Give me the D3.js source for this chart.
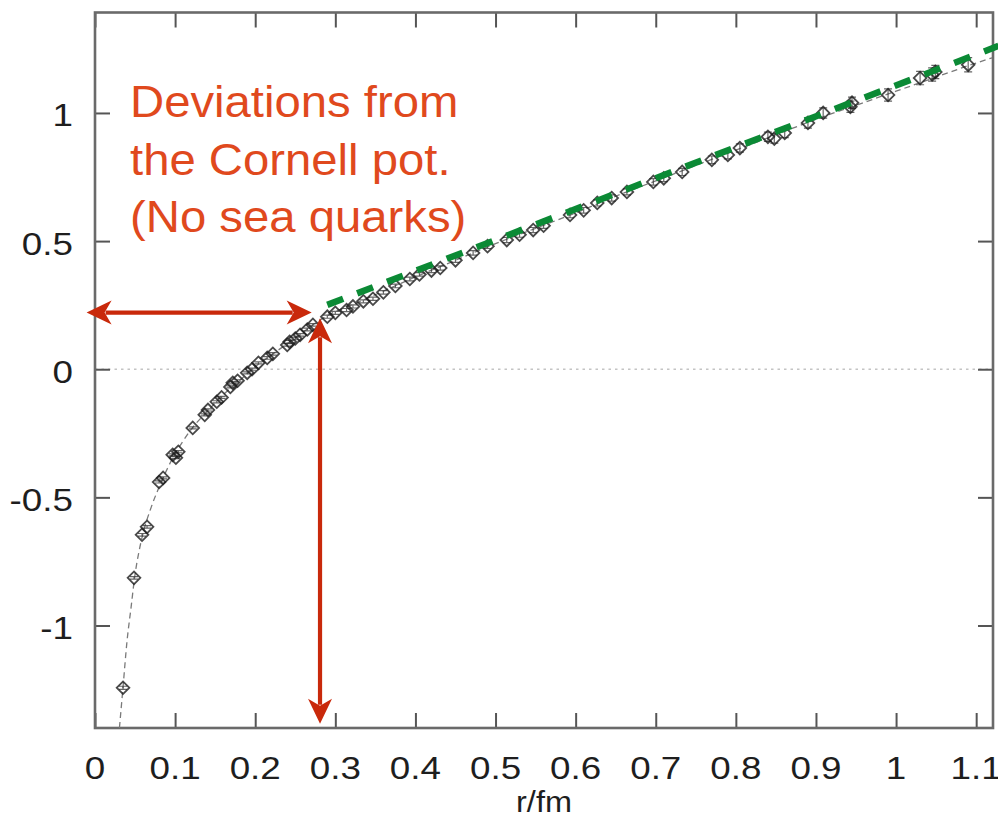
<!DOCTYPE html>
<html>
<head>
<meta charset="utf-8">
<script src="https://cdn.jsdelivr.net/npm/d3@7"></script>
<style>
  html, body { margin: 0; padding: 0; background: #fff; }
  svg { display: block; }
</style>
</head>
<body>
<svg id="chart" width="998" height="819"></svg>
<script>
// Static potential V(r) from lattice data, r in fm.
const rValues = [0.035, 0.0487, 0.0587, 0.065, 0.08, 0.085, 0.097, 0.101, 0.104, 0.122,
  0.137, 0.141, 0.152, 0.158, 0.169, 0.172, 0.178, 0.19, 0.196, 0.204,
  0.215, 0.222, 0.24, 0.243, 0.25, 0.256, 0.265, 0.272, 0.29, 0.3,
  0.314, 0.322, 0.335, 0.347, 0.36, 0.375, 0.393, 0.405, 0.42, 0.431,
  0.45, 0.472, 0.49, 0.514, 0.53, 0.547, 0.56, 0.593, 0.61, 0.627,
  0.645, 0.664, 0.697, 0.71, 0.733, 0.77, 0.79, 0.805, 0.84, 0.848,
  0.861, 0.89, 0.909, 0.943, 0.945, 0.99, 1.03, 1.045, 1.049, 1.09];
const vValues = [-1.243, -0.814, -0.646, -0.615, -0.44, -0.424, -0.334, -0.345, -0.322, -0.229,
  -0.178, -0.159, -0.127, -0.11, -0.069, -0.053, -0.045, -0.014, 0.0, 0.025,
  0.044, 0.06, 0.095, 0.107, 0.12, 0.134, 0.155, 0.173, 0.205, 0.22,
  0.231, 0.245, 0.265, 0.275, 0.3, 0.325, 0.352, 0.37, 0.385, 0.395,
  0.425, 0.454, 0.48, 0.504, 0.525, 0.543, 0.56, 0.602, 0.62, 0.649,
  0.668, 0.692, 0.731, 0.745, 0.77, 0.817, 0.836, 0.863, 0.907, 0.9,
  0.922, 0.961, 1.0, 1.024, 1.04, 1.07, 1.136, 1.15, 1.16, 1.188];
const vErrors = [0.006, 0.005, 0.005, 0.005, 0.004, 0.004, 0.004, 0.004, 0.004, 0.004,
  0.004, 0.004, 0.004, 0.004, 0.004, 0.004, 0.004, 0.004, 0.004, 0.004,
  0.005, 0.005, 0.005, 0.005, 0.005, 0.005, 0.005, 0.005, 0.006, 0.006,
  0.006, 0.006, 0.006, 0.006, 0.007, 0.007, 0.007, 0.007, 0.008, 0.008,
  0.008, 0.009, 0.009, 0.01, 0.01, 0.01, 0.01, 0.011, 0.011, 0.012,
  0.012, 0.012, 0.013, 0.013, 0.014, 0.015, 0.015, 0.016, 0.018, 0.018,
  0.018, 0.02, 0.02, 0.022, 0.022, 0.024, 0.026, 0.026, 0.026, 0.028];

// Fitted Cornell curve (thin dashed line).
const fitR = [0.0305, 0.035, 0.04, 0.045, 0.05, 0.055, 0.06, 0.07, 0.08, 0.09,
  0.1, 0.11, 0.12, 0.14, 0.16, 0.18, 0.2, 0.22, 0.24, 0.26,
  0.28, 0.3, 0.32, 0.36, 0.4, 0.45, 0.5, 0.55, 0.6, 0.65,
  0.7, 0.75, 0.8, 0.85, 0.9, 0.95, 1.0, 1.05, 1.1, 1.12];
const fitV = [-1.40, -1.24, -1.06, -0.93, -0.80, -0.71, -0.64, -0.54, -0.46, -0.39,
  -0.33, -0.28, -0.235, -0.165, -0.10, -0.045, 0.01, 0.055, 0.10, 0.145,
  0.19, 0.225, 0.25, 0.305, 0.36, 0.425, 0.49, 0.55, 0.61, 0.675,
  0.735, 0.795, 0.855, 0.915, 0.975, 1.03, 1.085, 1.14, 1.195, 1.215];

// Linear (string tension) line.
const linearR = [0.29, 1.128];
const linearV = [0.251, 1.262];

// Annotation arrows (data units).
const hArrowR = [-0.0105, 0.2705];
const hArrowV = 0.221;
const vArrowR = 0.2809;
const vArrowV = [0.199, -1.383];

const xTicks = [0, 0.1, 0.2, 0.3, 0.4, 0.5, 0.6, 0.7, 0.8, 0.9, 1.0, 1.1];
const xTickLabels = ["0", "0.1", "0.2", "0.3", "0.4", "0.5", "0.6", "0.7", "0.8", "0.9", "1", "1.1"];
const yTicks = [-1, -0.5, 0, 0.5, 1];
const yTickLabels = ["-1", "-0.5", "0", "0.5", "1"];
const noteLines = ["Deviations from", "the Cornell pot.", "(No sea quarks)"];
const xTitle = "r/fm";

const svg = d3.select("#chart");
const plotL = 95, plotR = 993, plotT = 12.5, plotB = 728;

const x = d3.scaleLinear().domain([0, 1.121]).range([plotL, plotR]);
const y = d3.scaleLinear().domain([-1.4, 1.392]).range([plotB, plotT]);

const FONT = "'Liberation Sans', Arial, Helvetica, sans-serif";
const tickColor = "#555";

// zero line
svg.append("line")
  .attr("x1", plotL).attr("x2", plotR)
  .attr("y1", y(0)).attr("y2", y(0))
  .attr("stroke", "#c4c4c4").attr("stroke-width", 1.5)
  .attr("stroke-dasharray", "2.5,4");

// inward ticks on all four sides
const tickLen = 15;
const axB = svg.append("g").attr("transform", `translate(0,${plotB})`)
  .call(d3.axisBottom(x).tickValues(xTicks).tickSize(-tickLen).tickFormat(""));
const axT = svg.append("g").attr("transform", `translate(0,${plotT})`)
  .call(d3.axisTop(x).tickValues(xTicks).tickSize(-tickLen).tickFormat(""));
const axL = svg.append("g").attr("transform", `translate(${plotL},0)`)
  .call(d3.axisLeft(y).tickValues(yTicks).tickSize(-tickLen).tickFormat(""));
const axR = svg.append("g").attr("transform", `translate(${plotR},0)`)
  .call(d3.axisRight(y).tickValues(yTicks).tickSize(-tickLen).tickFormat(""));
[axB, axT, axL, axR].forEach(g => {
  g.select(".domain").remove();
  g.selectAll(".tick line").attr("stroke", tickColor).attr("stroke-width", 2);
});

// tick labels
const sx = 1.15;
svg.append("g").selectAll("text").data(xTicks).join("text")
  .attr("transform", d => `translate(${x(d)},779) scale(${sx},1)`)
  .attr("text-anchor", "middle")
  .attr("font-family", FONT).attr("font-size", 32).attr("fill", "#1e1e1e")
  .text((d, i) => xTickLabels[i]);
svg.append("g").selectAll("text").data(yTicks).join("text")
  .attr("transform", d => `translate(73,${y(d) + 13.5}) scale(${sx},1)`)
  .attr("text-anchor", "end")
  .attr("font-family", FONT).attr("font-size", 32).attr("fill", "#1e1e1e")
  .text((d, i) => yTickLabels[i]);
svg.append("text")
  .attr("transform", `translate(${(plotL + plotR) / 2},812) scale(1.12,1)`)
  .attr("text-anchor", "middle")
  .attr("font-family", FONT).attr("font-size", 29).attr("fill", "#1e1e1e")
  .text(xTitle);

// frame
svg.append("rect")
  .attr("x", plotL).attr("y", plotT)
  .attr("width", plotR - plotL).attr("height", plotB - plotT)
  .attr("fill", "none").attr("stroke", "#6a6a6a").attr("stroke-width", 2.6);

// fit curve
svg.append("path")
  .datum(fitR.map((r, i) => [r, fitV[i]]))
  .attr("d", d3.line().x(d => x(d[0])).y(d => y(d[1])).curve(d3.curveMonotoneX))
  .attr("fill", "none").attr("stroke", "#7a7a7a").attr("stroke-width", 1.3)
  .attr("stroke-dasharray", "6,4");

// data points: error bars + open diamonds
const pts = rValues.map((r, i) => ({ r, v: vValues[i], e: vErrors[i] }));
const gp = svg.append("g");
gp.selectAll("path.err").data(pts).join("path")
  .attr("class", "err")
  .attr("d", d => {
    const cx = x(d.r), y1 = y(d.v + d.e), y2 = y(d.v - d.e);
    return `M${cx - 4},${y1}H${cx + 4}M${cx},${y1}V${y2}M${cx - 4},${y2}H${cx + 4}`;
  })
  .attr("fill", "none").attr("stroke", "#333").attr("stroke-width", 1.2).attr("opacity", 0.75);
gp.selectAll("path.pt").data(pts).join("path")
  .attr("class", "pt")
  .attr("d", d3.symbol(d3.symbolSquare, 80))
  .attr("transform", d => `translate(${x(d.r)},${y(d.v)}) rotate(45)`)
  .attr("fill", "none").attr("stroke", "#1c1c1c").attr("stroke-width", 1.8).attr("opacity", 0.8);

// linear part
svg.append("path")
  .datum(linearR.map((r, i) => [r, linearV[i]]))
  .attr("d", d3.line().x(d => x(d[0])).y(d => y(d[1])))
  .attr("fill", "none").attr("stroke", "#0b8a35").attr("stroke-width", 6.5)
  .attr("stroke-dasharray", "17,15");

// red double-headed arrows
const red = "#c9290b";
function arrowHead(tx, ty, angle) {
  svg.append("path")
    .attr("d", "M0,0L-25,-12L-18,0L-25,12Z")
    .attr("transform", `translate(${tx},${ty}) rotate(${angle})`)
    .attr("fill", red);
}
function doubleArrow(x1, y1, x2, y2) {
  const ang = Math.atan2(y2 - y1, x2 - x1);
  const ux = Math.cos(ang), uy = Math.sin(ang);
  svg.append("line")
    .attr("x1", x1 + ux * 19).attr("y1", y1 + uy * 19)
    .attr("x2", x2 - ux * 19).attr("y2", y2 - uy * 19)
    .attr("stroke", red).attr("stroke-width", 4.2);
  const deg = ang * 180 / Math.PI;
  arrowHead(x2, y2, deg);
  arrowHead(x1, y1, deg + 180);
}
doubleArrow(x(hArrowR[0]), y(hArrowV), x(hArrowR[1]), y(hArrowV));
doubleArrow(x(vArrowR), y(vArrowV[0]), x(vArrowR), y(vArrowV[1]));

// annotation text
svg.append("g").selectAll("text").data(noteLines).join("text")
  .attr("transform", (d, i) => `translate(130,${117 + i * 57.5}) scale(1.075,1)`)
  .attr("font-family", FONT).attr("font-size", 44).attr("fill", "#e0491d")
  .text(d => d);
</script>
</body>
</html>
